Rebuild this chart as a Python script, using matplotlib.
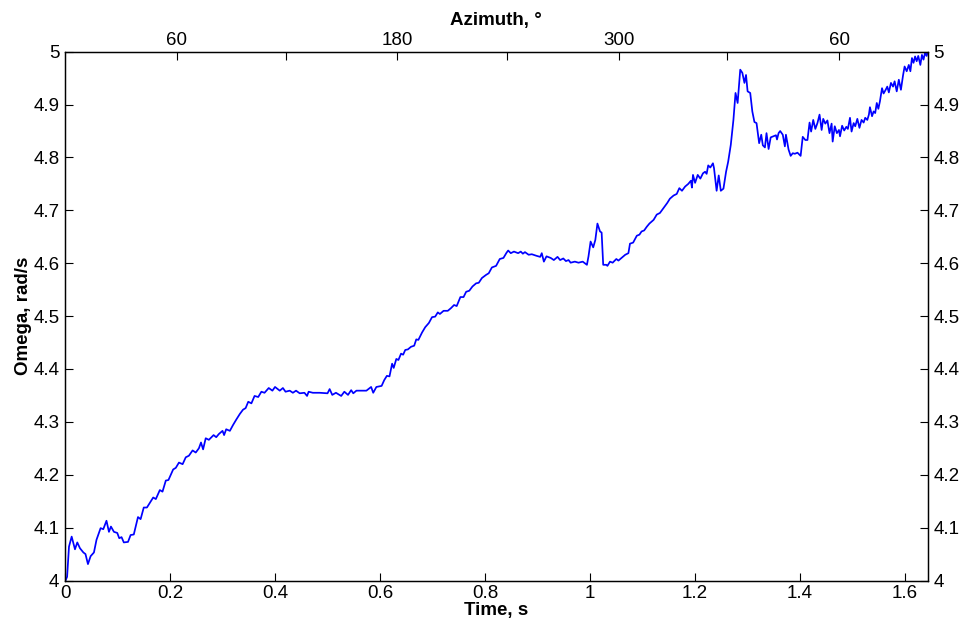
import matplotlib
matplotlib.use("Agg")
import matplotlib.pyplot as plt

plt.rcParams["font.family"] = ["Liberation Sans", "DejaVu Sans"]

# time (s) and omega (rad/s)
time_s = [
    0.001, 0.004, 0.0076, 0.0127, 0.016, 0.019, 0.0234, 0.0285, 0.035, 0.039,
    0.0437, 0.0488, 0.0551, 0.060, 0.0678, 0.0729, 0.079, 0.0837, 0.0875, 0.0932,
    0.0995, 0.1033, 0.1077, 0.112, 0.120, 0.125, 0.131, 0.139, 0.144, 0.150,
    0.156, 0.168, 0.173, 0.1806, 0.1857, 0.192, 0.197, 0.206, 0.211, 0.217,
    0.224, 0.230, 0.236, 0.243, 0.249, 0.255, 0.259, 0.263, 0.268, 0.274,
    0.283, 0.288, 0.293, 0.300, 0.303, 0.307, 0.314, 0.320, 0.326, 0.333,
    0.339, 0.344, 0.349, 0.355, 0.361, 0.368, 0.374, 0.380, 0.388, 0.395,
    0.400, 0.409, 0.415, 0.420, 0.428, 0.434, 0.440, 0.447, 0.456, 0.461,
    0.464, 0.472, 0.485, 0.500, 0.504, 0.509, 0.516, 0.526, 0.532, 0.539,
    0.545, 0.549, 0.555, 0.561, 0.574, 0.583, 0.587, 0.593, 0.603, 0.608,
    0.613, 0.618, 0.623, 0.626, 0.631, 0.635, 0.640, 0.644, 0.648, 0.653,
    0.659, 0.665, 0.669, 0.673, 0.680, 0.686, 0.693, 0.699, 0.705, 0.710,
    0.714, 0.721, 0.729, 0.735, 0.741, 0.746, 0.753, 0.759, 0.764, 0.770,
    0.776, 0.783, 0.788, 0.794, 0.802, 0.807, 0.813, 0.821, 0.828, 0.835,
    0.841, 0.844, 0.849, 0.855, 0.863, 0.868, 0.872, 0.876, 0.883, 0.889,
    0.898, 0.905, 0.908, 0.912, 0.917, 0.925, 0.931, 0.938, 0.943, 0.949,
    0.954, 0.959, 0.963, 0.971, 0.978, 0.986, 0.994, 0.997, 1.001, 1.006,
    1.010, 1.014, 1.019, 1.022, 1.025, 1.031, 1.033, 1.038, 1.043, 1.050,
    1.054, 1.060, 1.067, 1.073, 1.076, 1.082, 1.089, 1.094, 1.098, 1.103,
    1.108, 1.113, 1.121, 1.127, 1.133, 1.147, 1.152, 1.159, 1.165, 1.170,
    1.175, 1.181, 1.187, 1.192, 1.194, 1.196, 1.200, 1.205, 1.210, 1.215,
    1.219, 1.222, 1.225, 1.229, 1.234, 1.236, 1.241, 1.245, 1.249, 1.254,
    1.259, 1.263, 1.268, 1.273, 1.277, 1.281, 1.286, 1.290, 1.294, 1.297,
    1.300, 1.305, 1.309, 1.313, 1.317, 1.320, 1.322, 1.326, 1.329, 1.333,
    1.336, 1.340, 1.344, 1.349, 1.354, 1.356, 1.359, 1.362, 1.367, 1.371,
    1.373, 1.378, 1.382, 1.386, 1.390, 1.395, 1.399, 1.401, 1.405, 1.410,
    1.414, 1.418, 1.421, 1.425, 1.429, 1.433, 1.437, 1.441, 1.444, 1.448,
    1.452, 1.456, 1.460, 1.462, 1.466, 1.470, 1.474, 1.476, 1.480, 1.484,
    1.488, 1.491, 1.495, 1.498, 1.502, 1.505, 1.509, 1.513, 1.517, 1.521,
    1.524, 1.528, 1.531, 1.533, 1.537, 1.540, 1.543, 1.546, 1.549, 1.552,
    1.556, 1.559, 1.563, 1.566, 1.569, 1.573, 1.577, 1.580, 1.584, 1.588,
    1.592, 1.596, 1.599, 1.603, 1.607, 1.610, 1.613, 1.616, 1.619, 1.622,
    1.625, 1.629, 1.632, 1.635, 1.638, 1.641, 1.643,
]
omega = [
    4.000, 4.007, 4.064, 4.083, 4.070, 4.059, 4.072, 4.061, 4.053, 4.050,
    4.031, 4.046, 4.053, 4.077, 4.099, 4.097, 4.113, 4.092, 4.102, 4.092,
    4.090, 4.080, 4.082, 4.072, 4.073, 4.086, 4.087, 4.120, 4.116, 4.138,
    4.138, 4.157, 4.154, 4.171, 4.168, 4.189, 4.190, 4.210, 4.213, 4.223,
    4.220, 4.233, 4.236, 4.246, 4.242, 4.250, 4.261, 4.248, 4.269, 4.266,
    4.275, 4.271, 4.277, 4.283, 4.275, 4.286, 4.283, 4.294, 4.304, 4.315,
    4.323, 4.326, 4.338, 4.335, 4.349, 4.347, 4.357, 4.355, 4.364, 4.359,
    4.366, 4.359, 4.364, 4.357, 4.359, 4.355, 4.359, 4.354, 4.355, 4.349,
    4.357, 4.355, 4.355, 4.354, 4.362, 4.351, 4.355, 4.349, 4.357, 4.351,
    4.360, 4.354, 4.359, 4.359, 4.359, 4.366, 4.355, 4.366, 4.368, 4.379,
    4.387, 4.386, 4.410, 4.402, 4.419, 4.417, 4.429, 4.427, 4.436, 4.437,
    4.442, 4.444, 4.456, 4.455, 4.469, 4.479, 4.487, 4.498, 4.499, 4.507,
    4.504, 4.510, 4.510, 4.515, 4.521, 4.519, 4.536, 4.536, 4.546, 4.548,
    4.556, 4.562, 4.563, 4.572, 4.578, 4.581, 4.592, 4.595, 4.608, 4.610,
    4.620, 4.624, 4.619, 4.622, 4.619, 4.622, 4.618, 4.621, 4.616, 4.617,
    4.614, 4.612, 4.619, 4.603, 4.613, 4.610, 4.606, 4.612, 4.606, 4.609,
    4.604, 4.606, 4.601, 4.603, 4.601, 4.603, 4.597, 4.613, 4.641, 4.630,
    4.644, 4.675, 4.660, 4.658, 4.597, 4.597, 4.595, 4.603, 4.601, 4.608,
    4.605, 4.610, 4.616, 4.619, 4.637, 4.639, 4.652, 4.654, 4.660, 4.662,
    4.669, 4.675, 4.682, 4.692, 4.695, 4.714, 4.722, 4.728, 4.731, 4.742,
    4.737, 4.745, 4.750, 4.756, 4.743, 4.767, 4.752, 4.767, 4.760, 4.770,
    4.773, 4.769, 4.785, 4.781, 4.789, 4.780, 4.737, 4.766, 4.737, 4.741,
    4.773, 4.792, 4.824, 4.871, 4.922, 4.903, 4.966, 4.960, 4.941, 4.956,
    4.925, 4.922, 4.887, 4.867, 4.865, 4.843, 4.827, 4.843, 4.823, 4.819,
    4.846, 4.816, 4.838, 4.840, 4.842, 4.834, 4.846, 4.850, 4.843, 4.821,
    4.843, 4.815, 4.803, 4.808, 4.807, 4.809, 4.805, 4.803, 4.839, 4.833,
    4.833, 4.866, 4.849, 4.871, 4.854, 4.865, 4.881, 4.852, 4.873, 4.864,
    4.870, 4.846, 4.864, 4.830, 4.859, 4.846, 4.852, 4.840, 4.860, 4.851,
    4.858, 4.854, 4.875, 4.849, 4.865, 4.859, 4.873, 4.856, 4.871, 4.866,
    4.875, 4.871, 4.881, 4.895, 4.878, 4.887, 4.884, 4.903, 4.892, 4.906,
    4.931, 4.921, 4.928, 4.934, 4.923, 4.941, 4.934, 4.944, 4.925, 4.947,
    4.928, 4.955, 4.972, 4.963, 4.975, 4.963, 4.988, 4.979, 4.991, 4.982,
    4.992, 4.975, 4.994, 4.985, 4.998, 4.992, 5.000,
]

time_ticks = [0, 0.2, 0.4, 0.6, 0.8, 1.0, 1.2, 1.4, 1.6]
time_labels = ["0", "0.2", "0.4", "0.6", "0.8", "1", "1.2", "1.4", "1.6"]
omega_ticks = [4.0, 4.1, 4.2, 4.3, 4.4, 4.5, 4.6, 4.7, 4.8, 4.9, 5.0]
omega_labels = ["4", "4.1", "4.2", "4.3", "4.4", "4.5", "4.6", "4.7", "4.8", "4.9", "5"]
# azimuth ticks on the top axis (time where each azimuth step is reached)
azimuth_ticks = [0.2125, 0.4215, 0.632, 0.842, 1.0545, 1.261, 1.475]
azimuth_labels = ["60", "", "180", "", "300", "", "60"]

fig = plt.figure(figsize=(9.63, 6.25), dpi=100, facecolor="white")
ax = fig.add_axes([65 / 963, 1 - 580.5 / 625, 862.7 / 963, 528.8 / 625])
ax.plot(time_s, omega, color="#0000ff", linewidth=1.25)

ax.set_xlim(0, 1.643)
ax.set_ylim(4, 5)
ax.set_xticks(time_ticks)
ax.set_xticklabels(time_labels)
ax.set_yticks(omega_ticks)
ax.set_yticklabels(omega_labels)
ax.tick_params(direction="in", length=5.5, width=0.8, labelsize=13.5,
               right=True, labelright=True, top=False)
ax.tick_params(axis="x", pad=3)
ax.tick_params(axis="y", pad=4)
ax.set_xlabel("Time, s", fontsize=13.5, fontweight="bold", labelpad=0)
ax.set_ylabel("Omega, rad/s", fontsize=13.5, fontweight="bold", labelpad=1)

ax_top = ax.twiny()
ax_top.set_xlim(ax.get_xlim())
ax_top.set_xticks(azimuth_ticks)
ax_top.set_xticklabels(azimuth_labels)
ax_top.tick_params(direction="in", length=5.5, width=0.8, labelsize=13.5, pad=2)
ax_top.set_xlabel("Azimuth, °", fontsize=13.5, fontweight="bold", labelpad=5)

for a in (ax, ax_top):
    for spine in a.spines.values():
        spine.set_linewidth(0.9)

fig.savefig("out.png", dpi=100, facecolor="white")
